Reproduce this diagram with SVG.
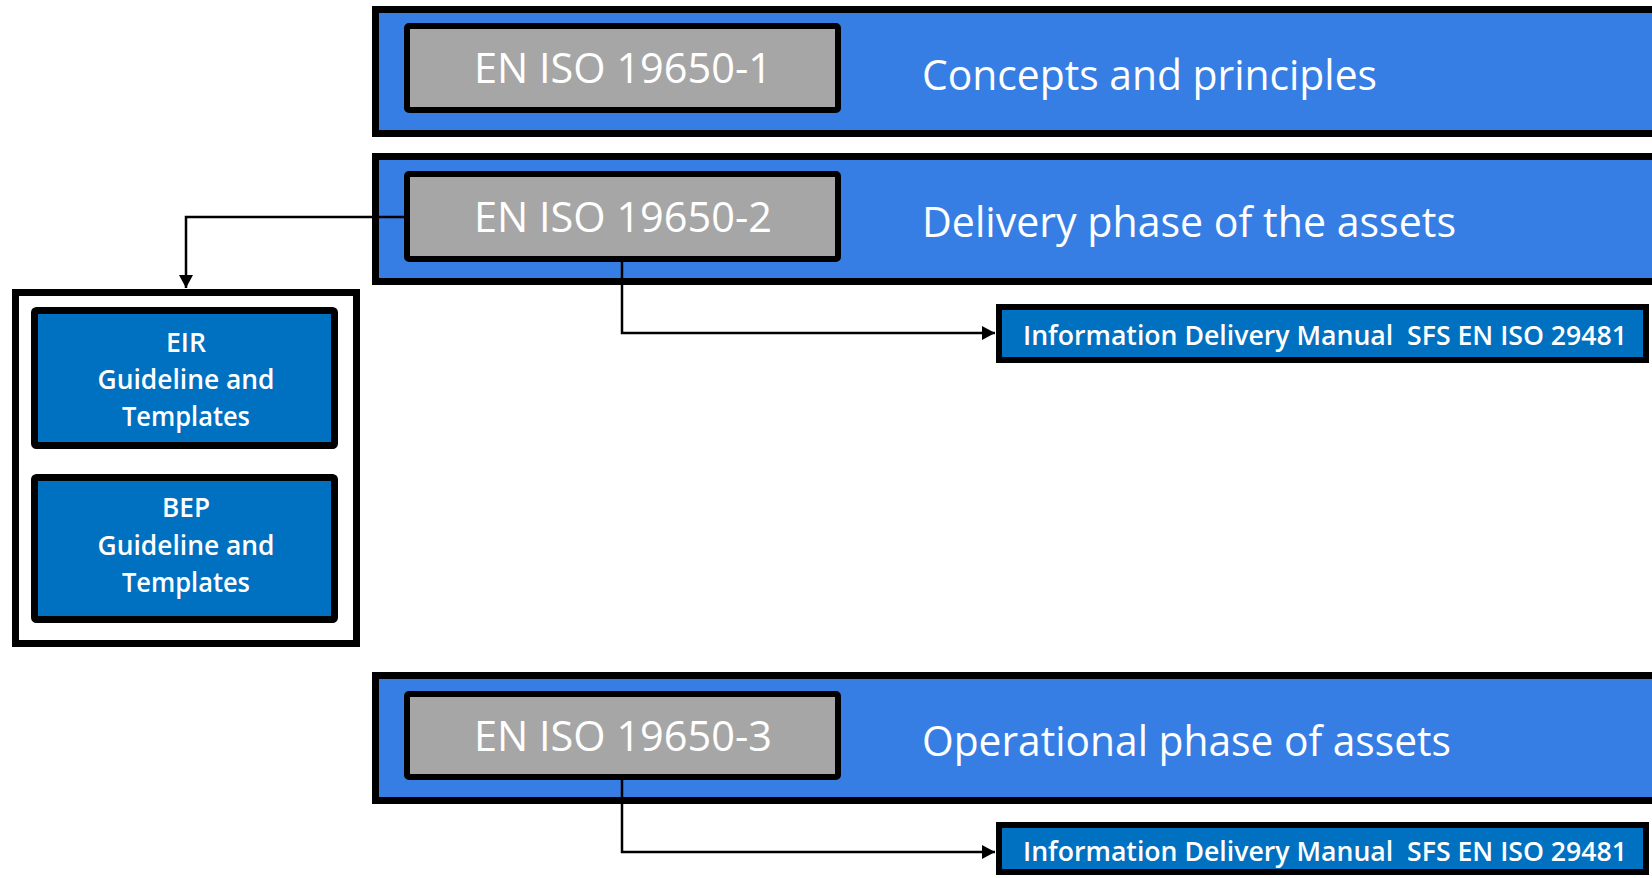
<svg xmlns="http://www.w3.org/2000/svg" width="1652" height="878" viewBox="0 0 1652 878">
<defs>
<style>
.band{fill:#367EE4;stroke:#000;stroke-width:7}
.gray{fill:#A6A6A6;stroke:#000;stroke-width:6}
.dark{fill:#0070C0;stroke:#000;stroke-width:7}
.idm{fill:#0070C0;stroke:#000;stroke-width:6}
.cont{fill:#fff;stroke:#000;stroke-width:7}
.big{font-family:"Open Sans","Noto Sans",sans-serif;font-size:42px;fill:#fff}
.small{font-family:"Open Sans","Noto Sans",sans-serif;font-size:27px;font-weight:600;fill:#fff}
.idmt{font-family:"Open Sans","Noto Sans",sans-serif;font-size:27px;font-weight:600;fill:#fff;white-space:pre}
.conn{fill:none;stroke:#000;stroke-width:2.5}
</style>
<marker id="arr" markerWidth="13" markerHeight="14" refX="13" refY="7" orient="auto" markerUnits="userSpaceOnUse">
<path d="M0,0 L13,7 L0,14 Z" fill="#000"/>
</marker>
</defs>
<rect width="1652" height="878" fill="#fff"/>

<g id="band1">
<rect class="band" x="375.5" y="9.5" width="1290" height="124"/>
</g>
<g id="band2">
<rect class="band" x="375.5" y="156.5" width="1290" height="125"/>
</g>
<g id="band3">
<rect class="band" x="375.5" y="675.5" width="1290" height="125"/>
</g>

<g id="connectors">
<path class="conn" d="M407,217 H186 V288" marker-end="url(#arr)"/>
<path class="conn" d="M622,262 V333 H995" marker-end="url(#arr)"/>
<path class="conn" d="M622,780 V852 H995" marker-end="url(#arr)"/>
</g>

<g id="title1">
<text class="big" x="922" y="90" textLength="455" lengthAdjust="spacingAndGlyphs">Concepts and principles</text>
</g>
<g id="title2">
<text class="big" x="922" y="237" textLength="534" lengthAdjust="spacingAndGlyphs">Delivery phase of the assets</text>
</g>
<g id="title3">
<text class="big" x="922" y="756" textLength="529" lengthAdjust="spacingAndGlyphs">Operational phase of assets</text>
</g>

<g id="iso1">
<rect class="gray" x="407" y="26" width="431" height="84" rx="2"/>
<text class="big" x="623" y="83" text-anchor="middle" textLength="298" lengthAdjust="spacingAndGlyphs">EN ISO 19650-1</text>
</g>
<g id="iso2">
<rect class="gray" x="407" y="174" width="431" height="85" rx="2"/>
<text class="big" x="623" y="232" text-anchor="middle" textLength="298" lengthAdjust="spacingAndGlyphs">EN ISO 19650-2</text>
</g>
<g id="iso3">
<rect class="gray" x="407" y="694" width="431" height="83" rx="2"/>
<text class="big" x="623" y="751" text-anchor="middle" textLength="298" lengthAdjust="spacingAndGlyphs">EN ISO 19650-3</text>
</g>

<g id="guidelines">
<rect class="cont" x="15.5" y="292.5" width="341" height="351"/>
</g>
<g id="eir">
<rect class="dark" x="34.5" y="310.5" width="300" height="135" rx="2"/>
<text class="small" x="186" y="352" text-anchor="middle" textLength="40" lengthAdjust="spacingAndGlyphs">EIR</text>
<text class="small" x="186" y="389" text-anchor="middle" textLength="177" lengthAdjust="spacingAndGlyphs">Guideline and</text>
<text class="small" x="186" y="426" text-anchor="middle" textLength="128" lengthAdjust="spacingAndGlyphs">Templates</text>
</g>
<g id="bep">
<rect class="dark" x="34.5" y="477.5" width="300" height="142" rx="2"/>
<text class="small" x="186" y="517" text-anchor="middle" textLength="48" lengthAdjust="spacingAndGlyphs">BEP</text>
<text class="small" x="186" y="555" text-anchor="middle" textLength="177" lengthAdjust="spacingAndGlyphs">Guideline and</text>
<text class="small" x="186" y="592" text-anchor="middle" textLength="128" lengthAdjust="spacingAndGlyphs">Templates</text>
</g>

<g id="idm1">
<rect class="idm" x="999" y="307" width="647" height="53"/>
<text class="idmt" x="1023" y="345" textLength="604" lengthAdjust="spacingAndGlyphs">Information Delivery Manual  SFS EN ISO 29481</text>
</g>
<g id="idm2">
<rect class="idm" x="999" y="825" width="647" height="47"/>
<text class="idmt" x="1023" y="861" textLength="604" lengthAdjust="spacingAndGlyphs">Information Delivery Manual  SFS EN ISO 29481</text>
</g>
</svg>
